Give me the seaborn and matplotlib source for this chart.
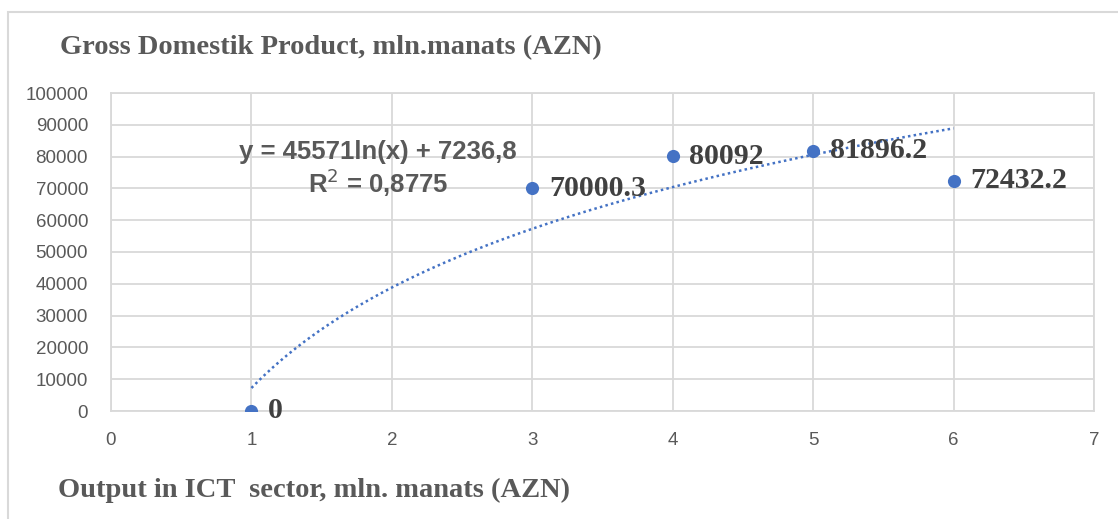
import numpy as np
import pandas as pd
import matplotlib
matplotlib.use("Agg")
import matplotlib.pyplot as plt
from matplotlib.patches import Rectangle
import seaborn as sns

# ICT output index vs GDP (mln. manats, AZN)
ict_output = [1, 3, 4, 5, 6]
gdp_values = [0, 70000.3, 80092, 81896.2, 72432.2]
value_labels = ["0", "70000.3", "80092", "81896.2", "72432.2"]

# logarithmic trendline y = a*ln(x) + b
trend_a = 45571
trend_b = 7236.8
trend_r2 = 0.8775
equation_lines = ["y = 45571ln(x) + 7236,8", "R$^2$ = 0,8775"]

x_ticks = [0, 1, 2, 3, 4, 5, 6, 7]
y_ticks = [0, 10000, 20000, 30000, 40000, 50000, 60000, 70000, 80000, 90000, 100000]

title_text = "Gross Domestik Product, mln.manats (AZN)"
xlabel_text = "Output in ICT  sector, mln. manats (AZN)"

sns.set_theme(style="white")
plt.rcParams["font.family"] = ["Liberation Sans", "DejaVu Sans"]
serif = ["Liberation Serif", "DejaVu Serif"]

W, H = 1118, 519
fig = plt.figure(figsize=(W / 100, H / 100), dpi=100)
fig.patch.set_facecolor("white")

ax = fig.add_axes([111 / W, 1 - 411 / H, (1094 - 111) / W, (411 - 93) / H])

blue = "#4472C4"
grid_c = "#d9d9d9"
text_c = "#595959"

df = pd.DataFrame({"x": ict_output, "y": gdp_values})
xs = np.linspace(1, 6, 200)
trend = pd.DataFrame({"x": xs, "y": trend_a * np.log(xs) + trend_b})

sns.lineplot(data=trend, x="x", y="y", ax=ax, color=blue, linewidth=1.8,
             linestyle=(0, (1, 1.3)), zorder=3)
sns.scatterplot(data=df, x="x", y="y", ax=ax, color=blue, s=90,
                edgecolor=blue, linewidth=0, zorder=4)

for xv, yv, lab in zip(ict_output, gdp_values, value_labels):
    ax.annotate(lab, (xv, yv), xytext=(12, 0), textcoords="offset points",
                ha="left", va="center", fontsize=21.5, fontweight="bold",
                family=serif, color="#404040", zorder=5)

ax.text(1.90, 81450, equation_lines[0], ha="center", va="center",
        fontsize=18.5, fontweight="bold", color=text_c, zorder=5)
ax.text(1.90, 71700, equation_lines[1], ha="center", va="center",
        fontsize=18.5, fontweight="bold", color=text_c, zorder=5)

ax.set_xlim(0, 7)
ax.set_ylim(0, 100000)
ax.set_xticks(x_ticks)
ax.set_yticks(y_ticks)
ax.set_xticklabels([str(t) for t in x_ticks])
ax.set_yticklabels([str(t) for t in y_ticks])
ax.grid(True, color=grid_c, linewidth=1.3)
ax.set_axisbelow(True)
for sp in ax.spines.values():
    sp.set_visible(True)
    sp.set_color(grid_c)
    sp.set_linewidth(1.3)
ax.tick_params(axis="both", length=0, labelsize=13.5, labelcolor=text_c)
ax.tick_params(axis="x", pad=15)
ax.tick_params(axis="y", pad=16.5)
ax.set_xlabel("")
ax.set_ylabel("")

fig.text(60 / W, 1 - 48 / H, title_text, ha="left", va="center",
         fontsize=20.5, fontweight="bold", color=text_c, family=serif)
fig.text(58 / W, 1 - 490 / H, xlabel_text, ha="left", va="center",
         fontsize=20.5, fontweight="bold", color=text_c, family=serif)

# outer chart frame
fig.add_artist(Rectangle((8 / W, -0.1), 1.2, 1 - 12 / H + 0.1,
                         transform=fig.transFigure, fill=False,
                         edgecolor=grid_c, linewidth=1.5))

fig.savefig("out.png", dpi=100)
